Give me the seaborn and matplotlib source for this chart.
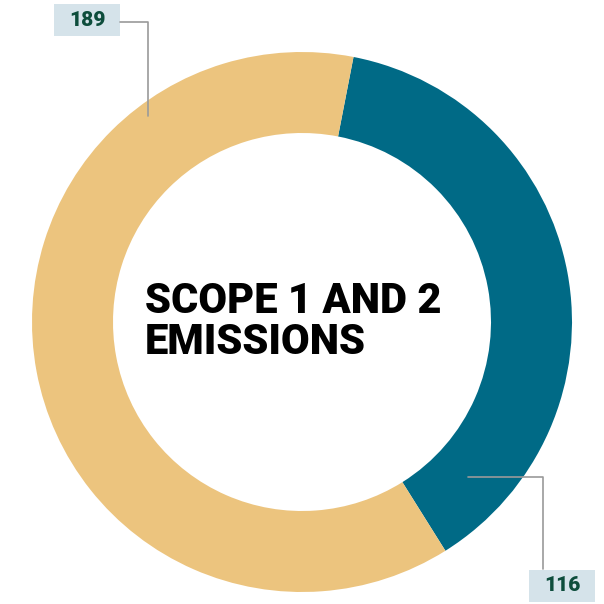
import matplotlib
matplotlib.use("Agg")
import matplotlib.pyplot as plt
from matplotlib.patches import Rectangle
import seaborn as sns

# emissions split
segments = ["Scope 2", "Scope 1"]
values = [116, 189]
colors = ["#006a86", "#ecc47e"]
title = "SCOPE 1 AND 2\nEMISSIONS"

sns.set_theme(style="white")
plt.rcParams["font.family"] = ["Roboto", "DejaVu Sans"]

fig = plt.figure(figsize=(6.04, 6.04), dpi=100)
ax = fig.add_axes([0, 0, 1, 1])

start = 90 - 11
ax.pie(values, colors=colors, startangle=start, counterclock=False,
       radius=1.0, wedgeprops=dict(width=0.3, linewidth=0))

# center (302, 322) px, outer radius 270 px
ax.set_xlim(-302 / 270, 302 / 270)
ax.set_ylim(-282 / 270, 322 / 270)
ax.set_aspect("equal")
ax.axis("off")

ax.text(-0.581, 0.0, title, ha="left", va="center", fontsize=30,
        fontweight="black", linespacing=0.98, color="black")

line_kw = dict(color="#9a9a9a", lw=1.2)
lab_kw = dict(ha="center", va="center", fontsize=15, fontweight="heavy", color="#0d4d3c")
box_w, box_h = 66 / 270, 32 / 270

# 189 label
ax.plot([-0.674, -0.570, -0.570], [1.111, 1.111, 0.763], **line_kw)
ax.add_patch(Rectangle((-0.9185, 1.0593), box_w, box_h, fc="#d5e3ea", ec="none"))
ax.text(-0.796, 1.1185, str(values[1]), **lab_kw)

# 116 label
ax.plot([0.615, 0.893, 0.893], [-0.574, -0.574, -0.915], **line_kw)
ax.add_patch(Rectangle((0.8407, -1.037), box_w, box_h, fc="#d5e3ea", ec="none"))
ax.text(0.963, -0.976, str(values[0]), **lab_kw)

fig.savefig("out.png", dpi=100)
